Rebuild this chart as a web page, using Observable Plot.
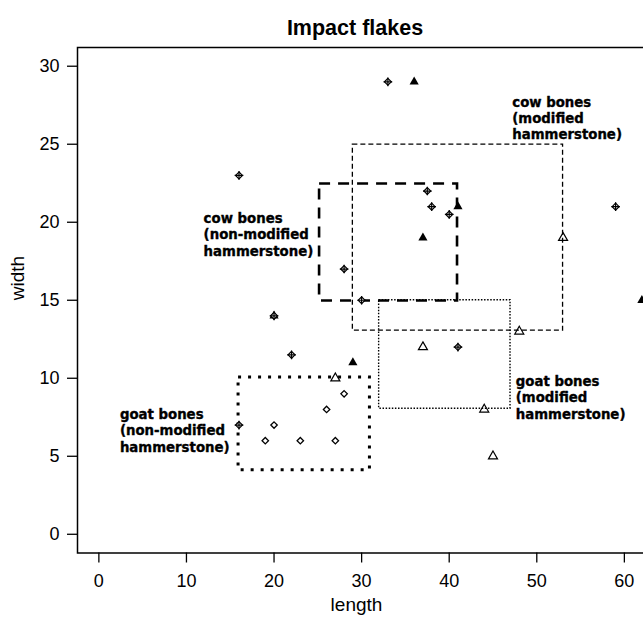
<!DOCTYPE html>
<html>
<head>
<meta charset="utf-8">
<script src="https://cdn.jsdelivr.net/npm/d3@7"></script>
<script src="https://cdn.jsdelivr.net/npm/@observablehq/plot@0.6"></script>
<style>
  html, body { margin: 0; padding: 0; background: white; overflow: hidden; }
  #chart svg { display: block; overflow: hidden; }
</style>
</head>
<body>
<div id="chart"></div>
<script>
// ---- data (length, width) ----
const cowNonModLength = [33, 16, 37.5, 38, 40, 28, 30, 20, 22, 41, 59, 16];
const cowNonModWidth  = [29, 23, 22, 21, 20.5, 17, 15, 14, 11.5, 12, 21, 7];
const cowModLength    = [36, 41, 37, 29, 62, 20];
const cowModWidth     = [29, 21, 19, 11, 15, 14];
const goatNonModLength = [28, 26, 20, 19, 23, 27];
const goatNonModWidth  = [9, 8, 7, 6, 6, 6];
const goatModLength    = [27, 53, 48, 37, 44, 45];
const goatModWidth     = [10, 19, 13, 12, 8, 5];

// ---- group boxes ----
const boxNames      = ["cowNonMod", "cowMod", "goatMod", "goatNonMod"];
const boxLengthMin  = [25.2, 29, 32, 15.95];
const boxLengthMax  = [40.95, 53, 47, 30.95];
const boxWidthMin   = [14.95, 13.05, 8.05, 4.1];
const boxWidthMax   = [22.45, 24.98, 15.0, 10.05];
const boxLabels = [
  "cow bones\n(non-modified\nhammerstone)",
  "cow bones\n(modified\nhammerstone)",
  "goat bones\n(modified\nhammerstone)",
  "goat bones\n(non-modified\nhammerstone)"
];
const labelLength = [11.96, 47.2, 47.6, 2.4];
const labelWidth  = [19.24, 26.7, 8.8, 6.68];

// ---- ticks ----
const xTicks = [0, 10, 20, 30, 40, 50, 60];
const yTicks = [0, 5, 10, 15, 20, 25, 30];
const title = "Impact flakes";
const xLabel = "length";
const yLabel = "width";

// ---- build tables ----
const pts = (xs, ys) => xs.map((x, i) => ({x, y: ys[i]}));
const cowNonMod = pts(cowNonModLength, cowNonModWidth);
const cowMod = pts(cowModLength, cowModWidth);
const goatNonMod = pts(goatNonModLength, goatNonModWidth);
const goatMod = pts(goatModLength, goatModWidth);
const boxes = boxNames.map((name, i) => ({
  name, x1: boxLengthMin[i], x2: boxLengthMax[i], y1: boxWidthMin[i], y2: boxWidthMax[i]
}));
const labels = boxLabels.map((text, i) => ({text, x: labelLength[i], y: labelWidth[i]}));

const boxStyle = {
  cowNonMod: {strokeWidth: 2.6, strokeDasharray: "11,8"},
  cowMod: {strokeWidth: 1.3, strokeDasharray: "5,3"},
  goatMod: {strokeWidth: 1.4, strokeDasharray: "1.5,1.6"},
  goatNonMod: {strokeWidth: 3, strokeDasharray: "3,7"}
};

const boxMarks = boxNames.map(name =>
  Plot.rect(boxes.filter(d => d.name === name), {
    x1: "x1", x2: "x2", y1: "y1", y2: "y2",
    fill: "none", stroke: "black", ...boxStyle[name]
  })
);

const chart = Plot.plot({
  width: 643,
  height: 619,
  marginLeft: 77,
  marginRight: -11,
  marginTop: 47,
  marginBottom: 66.5,
  x: {domain: [-2.44, 63.44]},
  y: {domain: [-1.2, 31.2]},
  style: {fontFamily: "'Liberation Sans', Arial, sans-serif", fontSize: "18px", color: "black", background: "white", overflow: "hidden"},
  marks: [
    Plot.frame({stroke: "black", strokeWidth: 1.5}),
    Plot.axisX(xTicks, {tickSize: 10, tickPadding: 11, label: null, fontSize: 18, strokeWidth: 1.3}),
    Plot.axisY(yTicks, {tickSize: 10, tickPadding: 8, label: null, fontSize: 18, strokeWidth: 1.3}),
    ...boxMarks,
    Plot.dot(cowMod, {x: "x", y: "y", symbol: "triangle", fill: "black", stroke: "none", r: 3.4}),
    Plot.dot(goatMod, {x: "x", y: "y", symbol: "triangle2", fill: "none", stroke: "black", strokeWidth: 1.2, r: 4.3}),
    Plot.dot(goatNonMod, {x: "x", y: "y", symbol: "diamond2", fill: "none", stroke: "black", strokeWidth: 1.3, r: 2.9}),
    Plot.dot(cowNonMod, {x: "x", y: "y", symbol: "diamond2", fill: "white", stroke: "black", strokeWidth: 1.2, r: 3.1}),
    Plot.dot(cowNonMod, {x: "x", y: "y", symbol: "plus", fill: "none", stroke: "black", strokeWidth: 1.2, r: 2.9}),
    Plot.text(labels, {x: "x", y: "y", text: "text", textAnchor: "start", lineAnchor: "middle",
      lineHeight: 1.24, fontSize: 13.3, fontWeight: "bold", fontFamily: "'DejaVu Sans', sans-serif",
      fill: "black", stroke: "black", strokeWidth: 0.35}),
    Plot.text([title], {frameAnchor: "top", dx: -11, dy: -27.5, fontSize: 21.5, fontWeight: "bold", fill: "black"}),
    Plot.text([xLabel], {frameAnchor: "bottom", dx: -9.5, dy: 57.5, fontSize: 19, fill: "black"}),
    Plot.text([yLabel], {frameAnchor: "left", dx: -60, rotate: -90, fontSize: 19, fill: "black"})
  ]
});
document.getElementById("chart").appendChild(chart);
</script>
</body>
</html>
